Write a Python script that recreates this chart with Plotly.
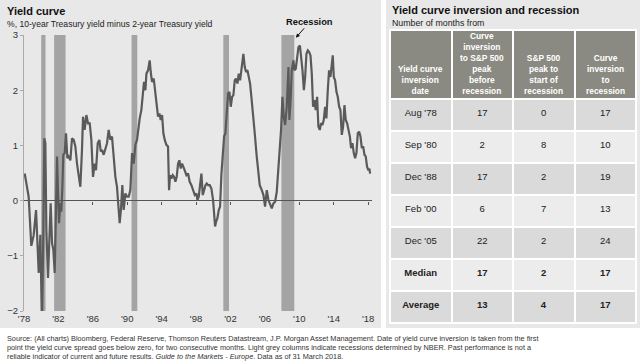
import plotly.graph_objects as go

W, H = 640, 362

# ---------------- data ----------------
years = [
    1978.08, 1978.35, 1978.54, 1978.85, 1979.12, 1979.40, 1979.51, 1979.71, 1979.90, 1980.09,
    1980.25, 1980.36, 1980.48, 1980.60, 1980.79, 1980.95, 1981.10, 1981.26, 1981.41, 1981.57,
    1981.72, 1981.84, 1981.95, 1982.07, 1982.22, 1982.34, 1982.46, 1982.57, 1982.73, 1982.88,
    1983.04, 1983.19, 1983.39, 1983.58, 1983.78, 1983.97, 1984.16, 1984.36, 1984.55, 1984.74,
    1984.86, 1985.05, 1985.25, 1985.44, 1985.64, 1985.83, 1986.02, 1986.22, 1986.37, 1986.57,
    1986.76, 1986.92, 1987.07, 1987.26, 1987.46, 1987.65, 1987.84, 1988.04, 1988.23, 1988.43,
    1988.62, 1988.81, 1989.01, 1989.12, 1989.28, 1989.43, 1989.59, 1989.78, 1989.98, 1990.17,
    1990.36, 1990.56, 1990.75, 1990.95, 1991.14, 1991.30, 1991.45, 1991.64, 1991.80, 1991.95,
    1992.11, 1992.23, 1992.42, 1992.61, 1992.73, 1992.88, 1993.08, 1993.27, 1993.43, 1993.58,
    1993.74, 1993.89, 1994.05, 1994.20, 1994.36, 1994.55, 1994.74, 1994.86, 1994.98, 1995.13,
    1995.29, 1995.44, 1995.60, 1995.75, 1995.91, 1996.06, 1996.22, 1996.37, 1996.53, 1996.68,
    1996.88, 1997.07, 1997.26, 1997.46, 1997.65, 1997.85, 1998.04, 1998.16, 1998.31, 1998.47,
    1998.62, 1998.78, 1998.93, 1999.09, 1999.24, 1999.40, 1999.59, 1999.78, 1999.98, 2000.09,
    2000.21, 2000.33, 2000.48, 2000.64, 2000.79, 2000.95, 2001.10, 2001.26, 2001.41, 2001.57,
    2001.72, 2001.88, 2002.03, 2002.19, 2002.34, 2002.50, 2002.65, 2002.81, 2002.96, 2003.12,
    2003.27, 2003.43, 2003.50, 2003.66, 2003.81, 2003.97, 2004.12, 2004.28, 2004.43, 2004.63,
    2004.82, 2005.05, 2005.25, 2005.40, 2005.64, 2005.83, 2006.02, 2006.22, 2006.41, 2006.60,
    2006.80, 2006.99, 2007.19, 2007.38, 2007.57, 2007.73, 2007.88, 2008.04, 2008.19, 2008.35,
    2008.54, 2008.74, 2008.85, 2009.01, 2009.12, 2009.32, 2009.43, 2009.59, 2009.74, 2009.90,
    2010.07, 2010.22, 2010.37, 2010.53, 2010.68, 2010.83, 2010.99, 2011.15, 2011.30, 2011.45,
    2011.60, 2011.76, 2011.91, 2012.07, 2012.22, 2012.38, 2012.53, 2012.69, 2012.84, 2013.00,
    2013.15, 2013.31, 2013.46, 2013.62, 2013.77, 2013.89, 2014.01, 2014.16, 2014.32, 2014.47,
    2014.63, 2014.78, 2014.94, 2015.09, 2015.25, 2015.40, 2015.56, 2015.71, 2015.88, 2016.02,
    2016.18, 2016.33, 2016.49, 2016.64, 2016.80, 2016.95, 2017.11, 2017.27, 2017.43, 2017.57,
    2017.72, 2017.88, 2018.04, 2018.15, 2018.23,
]
spread = [
    0.49, 0.28, 0.07, -0.82, -0.63, -0.17, -0.53, -1.31, -0.62, -2.30,
    -0.53, 1.13, 1.04, -0.53, -1.40, -0.59, -0.05, -0.77, -0.89, -1.31,
    -0.29, 0.80, 0.19, -0.41, -0.05, -0.20, 0.25, 0.83, 0.86, 1.22,
    0.77, 0.80, 0.73, 1.13, 1.10, 0.98, 0.67, 0.43, 0.25, 0.92,
    1.52, 1.28, 1.55, 1.40, 1.40, 1.10, 0.43, 0.67, 0.55, 1.04,
    1.10, 0.89, 0.92, 0.83, 0.95, 1.04, 1.28, 1.10, 1.16, 0.80,
    0.43, 0.25, -0.11, -0.41, -0.14, 0.28, -0.17, 0.13, 0.07, 0.07,
    0.19, 0.86, 0.67, 1.01, 1.10, 1.34, 1.49, 1.64, 2.00, 2.15,
    2.00, 2.30, 2.36, 2.54, 2.33, 2.15, 2.21, 1.94, 1.64, 1.52,
    1.58, 1.46, 1.55, 1.22, 1.10, 1.01, 0.98, 0.19, 0.46, 0.40,
    0.46, 0.43, 0.34, 0.43, 0.67, 0.73, 0.58, 0.67, 0.61, 0.55,
    0.46, 0.49, 0.34, 0.28, 0.19, 0.10, 0.13, 0.01, 0.07, 0.25,
    0.49, 0.10, 0.19, 0.28, 0.31, 0.28, 0.28, 0.22, 0.01, -0.35,
    -0.47, -0.38, -0.32, -0.17, -0.11, 0.49, 0.80, 1.16, 1.22, 1.58,
    1.94, 1.97, 1.70, 1.88, 1.91, 2.18, 2.21, 2.12, 2.30, 2.18,
    2.39, 2.51, 2.66, 2.42, 2.33, 2.36, 2.21, 2.12, 1.88, 1.58,
    1.22, 0.80, 0.49, 0.28, 0.19, 0.10, -0.11, 0.19, 0.01, -0.05,
    -0.14, -0.05, -0.02, 0.16, 0.55, 0.80, 1.28, 1.88, 1.52, 1.37,
    1.70, 2.42, 1.46, 1.88, 2.36, 2.54, 2.36, 2.39, 2.60, 2.78,
    2.81, 2.60, 2.36, 2.00, 2.24, 2.66, 2.72, 2.69, 2.63, 2.30,
    1.70, 1.82, 1.64, 1.88, 1.34, 1.28, 1.40, 1.37, 1.46, 1.70,
    1.49, 2.00, 2.36, 2.24, 2.42, 2.63, 2.24, 2.18, 1.97, 1.88,
    1.70, 1.64, 1.19, 1.34, 1.73, 1.46, 1.40, 1.28, 1.16, 0.95,
    1.04, 0.86, 0.77, 0.86, 1.22, 1.25, 1.16, 0.95, 0.98, 0.83,
    0.80, 0.61, 0.55, 0.58, 0.49,
]
rec_start = [1980.00, 1981.50, 1990.50, 2001.17, 2007.92]
rec_end = [1980.50, 1982.83, 1991.17, 2001.83, 2009.42]

x_tick_vals = [1978, 1982, 1986, 1990, 1994, 1998, 2002, 2006, 2010, 2014, 2018]
x_tick_text = ["'78", "'82", "'86", "'90", "'94", "'98", "'02", "'06", "'10", "'14", "'18"]
y_tick_vals = [-2, -1, 0, 1, 2, 3]

tbl_header = [
    "Yield curve<br>inversion<br>date",
    "Curve<br>inversion<br>to S&P 500<br>peak<br>before<br>recession",
    "S&P 500<br>peak to<br>start of<br>recession",
    "Curve<br>inversion<br>to<br>recession",
]
tbl_dates = ["Aug '78", "Sep '80", "Dec '88", "Feb '00", "Dec '05", "Median", "Average"]
tbl_inv_to_peak = [17, 2, 17, 6, 22, 17, 13]
tbl_peak_to_rec = [0, 8, 2, 7, 2, 2, 4]
tbl_inv_to_rec = [17, 10, 19, 13, 24, 17, 17]

# ---------------- layout helpers ----------------
def px(x):
    return x / W

def py(y):
    return 1 - y / H

FONT = "Liberation Sans, Arial, sans-serif"
PANEL = "#e8e8e8"
yd = [py(311), py(35)]
xd = [px(24), px(372)]

fig = go.Figure()

fig.add_trace(go.Scatter(
    x=years, y=spread, mode="lines",
    line=dict(color="#5a5a5a", width=2.2),
    hoverinfo="skip", showlegend=False,
))
# helper trace to activate overlay axis carrying tick marks on the zero line
fig.add_trace(go.Scatter(
    x=[years[0]], y=[0], xaxis="x2", mode="markers",
    marker=dict(opacity=0), hoverinfo="skip", showlegend=False,
))

shapes = [
    dict(type="rect", xref="paper", yref="paper", x0=0, x1=px(381), y0=py(328), y1=1,
         fillcolor=PANEL, line=dict(width=0), layer="below"),
    dict(type="rect", xref="paper", yref="paper", x0=px(386), x1=1, y0=py(328), y1=1,
         fillcolor=PANEL, line=dict(width=0), layer="below"),
]
for s, e in zip(rec_start, rec_end):
    shapes.append(dict(type="rect", xref="x", yref="y", x0=s, x1=e, y0=-2, y1=3,
                       fillcolor="#a4a4a4", line=dict(width=0), layer="below"))

# table: a small leading line pushes the visible text down to the row centre
def fmt(vals, bold_from=5):
    out = []
    for i, v in enumerate(vals):
        s = str(v)
        if i >= bold_from:
            s = f"<b>{s}</b>"
        out.append(f"<br><span style='font-size:9.5px'>{s}</span>")
    return out

TX0, TX1 = 390, 636
HDR_TOP, HDR_BOT = 30, 99
row_fill = ["#dadada", "#ececec", "#dadada", "#ececec", "#dadada", "#ececec", "#dadada"]
fig.add_trace(go.Table(
    domain=dict(x=[px(TX0), px(TX1)], y=[py(327), py(HDR_TOP)]),
    columnwidth=[1, 1, 1, 1],
    header=dict(
        values=["", "", "", ""],
        fill_color="#8a8a83",
        line=dict(color="white", width=2),
        font=dict(color="white", size=9, family=FONT),
        align="center", height=HDR_BOT - HDR_TOP,
    ),
    cells=dict(
        values=[fmt(tbl_dates), fmt(tbl_inv_to_peak), fmt(tbl_peak_to_rec), fmt(tbl_inv_to_rec)],
        fill_color=[row_fill] * 4,
        line=dict(color="white", width=2),
        font=dict(color="#222", size=6.5, family=FONT),
        align="center", height=32,
    ),
))

annotations = [
    dict(text="<b>Yield curve</b>", x=px(5), y=py(11), xref="paper", yref="paper",
         xanchor="left", yanchor="middle", showarrow=False,
         font=dict(size=11, color="#111", family=FONT)),
    dict(text="%, 10-year Treasury yield minus 2-year Treasury yield", x=px(5), y=py(24),
         xref="paper", yref="paper", xanchor="left", yanchor="middle", showarrow=False,
         font=dict(size=8.6, color="#222", family=FONT)),
    dict(text="<b>Yield curve inversion and recession</b>", x=px(390), y=py(10),
         xref="paper", yref="paper", xanchor="left", yanchor="middle", showarrow=False,
         font=dict(size=11, color="#111", family=FONT)),
    dict(text="Number of months from", x=px(390), y=py(23),
         xref="paper", yref="paper", xanchor="left", yanchor="middle", showarrow=False,
         font=dict(size=8.8, color="#222", family=FONT)),
    dict(text="<b>Recession</b>", x=2009.6, y=2.95, xref="x", yref="y",
         ax=14, ay=-16, showarrow=True, arrowhead=2, arrowsize=0.8, arrowwidth=1,
         arrowcolor="#111", font=dict(size=9.3, color="#111", family=FONT)),
]
col_w = (TX1 - TX0) / 4
for i, h in enumerate(tbl_header):
    annotations.append(dict(
        text=f"<b>{h}</b>", x=px(TX0 + col_w * (i + 0.5)), y=py(HDR_BOT - 2),
        xref="paper", yref="paper", xanchor="center", yanchor="bottom",
        align="center", showarrow=False, borderpad=0,
        font=dict(size=8.4, color="white", family=FONT),
    ))

foot = [
    "Source: (All charts) Bloomberg, Federal Reserve, Thomson Reuters Datastream, J.P. Morgan Asset Management. Date of yield curve inversion is taken from the first",
    "point the yield curve spread goes below zero, for two consecutive months. Light grey columns indicate recessions determined by NBER. Past performance is not a",
    "reliable indicator of current and future results. <i>Guide to the Markets - Europe</i>. Data as of 31 March 2018.",
]
for i, t in enumerate(foot):
    annotations.append(dict(text=t, x=px(5), y=py(338 + 9.2 * i), xref="paper", yref="paper",
                            xanchor="left", yanchor="middle", showarrow=False,
                            font=dict(size=7.3, color="#333", family=FONT)))

fig.update_layout(
    width=W, height=H,
    margin=dict(l=0, r=0, t=0, b=0, autoexpand=False),
    paper_bgcolor="white", plot_bgcolor=PANEL,
    font=dict(family=FONT, color="#333"),
    showlegend=False,
    shapes=shapes, annotations=annotations,
    xaxis=dict(domain=xd, range=[1978, 2018.45], tickvals=x_tick_vals, ticktext=x_tick_text,
               showgrid=False, zeroline=False, showline=False, ticks="",
               tickfont=dict(size=9.5, color="#333"), anchor="y", fixedrange=True,
               automargin=False),
    xaxis2=dict(overlaying="x", matches="x", anchor="free",
                position=yd[0] + 0.4 * (yd[1] - yd[0]),
                tickvals=x_tick_vals[1:], showticklabels=False, showgrid=False,
                zeroline=False, showline=False, ticks="outside", ticklen=3,
                tickcolor="#555", tickwidth=1, automargin=False),
    yaxis=dict(domain=yd, range=[-2, 3], tickvals=y_tick_vals, showgrid=False,
               zeroline=True, zerolinecolor="#555", zerolinewidth=1,
               showline=True, linecolor="#aaaaaa", linewidth=1,
               ticks="outside", ticklen=3, tickcolor="#aaaaaa",
               tickfont=dict(size=9.5, color="#333"), fixedrange=True,
               automargin=False),
)

fig.write_html(
    "out.html",
    config={"displayModeBar": False},
    post_script="document.body.style.margin='0';document.body.style.padding='0';"
                "document.body.style.overflow='hidden';",
)
